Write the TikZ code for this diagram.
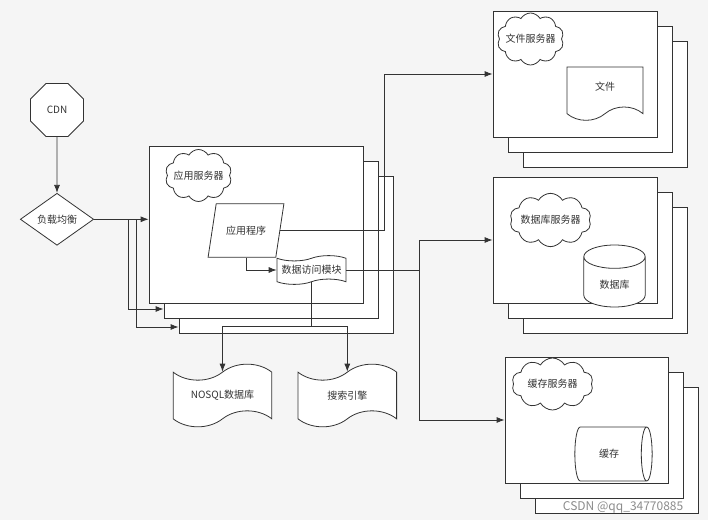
\documentclass[tikz,border=0pt]{standalone}
\usepackage{fontspec}
\newfontfamily\cjk{Noto Sans CJK SC}
\usetikzlibrary{arrows.meta,positioning,shapes.geometric,shapes.symbols}
\tikzset{>={Latex[length=6pt,width=4.5pt]}, every node/.style={font=\cjk\fontsize{7.5}{9}\selectfont, text=black!80}}
\begin{document}
\begin{tikzpicture}[x=0.75pt,y=-0.75pt]
	\tikzset{srvbox/.style={draw=black!80, fill=white, line width=.6pt},
		octa/.style={draw=black!80, fill=white, line width=.6pt, regular polygon, regular polygon sides=8, minimum size=43pt, inner sep=0pt},
		lbdiamond/.style={draw=black!80, fill=white, line width=.6pt, diamond, minimum width=55pt, minimum height=39pt, inner sep=0pt},
		cloudbox/.style={draw=black!80, fill=white, line width=.6pt, cloud, cloud puffs=10, cloud puff arc=120, cloud ignores aspect, inner sep=-3pt},
		progbox/.style={draw=black!80, fill=white, line width=.6pt, trapezium, trapezium left angle=70, trapezium right angle=110, trapezium stretches=true, minimum width=57pt, minimum height=40pt},
		tapebox/.style={draw=black!80, fill=white, line width=.6pt, tape, tape bend height=12pt, minimum width=74pt, minimum height=47pt},
		docbox/.style={draw=black!80, fill=white, line width=.6pt, tape, tape bend top=none, tape bend height=10pt, minimum width=57pt, minimum height=40pt},
		cylbox/.style={draw=black!80, fill=white, line width=.6pt, cylinder, aspect=.6, anchor=shape center},
		link/.style={draw=black!80, line width=.6pt, ->},
	}
	\path[use as bounding box, fill=black!4] (0,0) rectangle (708,520);
	% server stacks
	\foreach \name/\x/\y/\w/\h in {app/256/224.5/160.5pt/117.75pt, file/575/74/123pt/94.5pt, db/575/240/123pt/94.5pt, cache/586.5/420/122.25pt/94.5pt}{
		\node[srvbox, minimum width=\w, minimum height=\h] (\name3) at (\x+30,\y+30) {};
		\node[srvbox, minimum width=\w, minimum height=\h] (\name2) at (\x+15,\y+15) {};
		\node[srvbox, minimum width=\w, minimum height=\h] (\name1) at (\x,\y) {};
	}
	\node[octa] (cdn) at (57,110) {CDN};
	\node[lbdiamond, below=42pt of cdn] (lb) {负载均衡};
	\node[cloudbox, minimum width=50pt, minimum height=39pt] (appcloud) at (198.5,175.5) {应用服务器};
	\node[progbox] (prog) at (246,230.5) {应用程序};
	\node[tapebox, minimum width=50pt, minimum height=19.5pt, tape bend height=4pt] (dam) at (311.5,270) {数据访问模块};
	\node[tapebox] (nosql) at (222.5,395.5) {NOSQL数据库};
	\node[tapebox, right=19pt of nosql] (search) {搜索引擎};
	\node[cloudbox, minimum width=50pt, minimum height=39pt] (filecloud) at (530.5,39) {文件服务器};
	\node[docbox] (filedoc) at (605,87) {文件};
	\node[cloudbox, minimum width=61pt, minimum height=40pt] (dbcloud) at (550.5,220) {数据库服务器};
	\node[cylbox, shape border rotate=90, minimum width=46pt, minimum height=46.5pt] (dbcyl) at (614.5,276) {数据库};
	\node[cloudbox, minimum width=61pt, minimum height=39pt] (cachecloud) at (552.5,384) {缓存服务器};
	\node[cylbox, minimum width=40.5pt, minimum height=58pt] (cachecyl) at (613.5,454) {缓存};
	\node[text=black!45, font=\cjk\fontsize{9}{11}\selectfont, anchor=east] (csdn) at (688,507) {CSDN @qq\_34770885};
	% connectors
	\coordinate (lbdown2) at (128,309);
	\coordinate (lbdown3) at (136,327);
	\coordinate (fileup) at (384,74);
	\coordinate (dbsplit) at (419,270);
	\draw[link] (cdn) -- (lb);
	\draw[link] (lb.east) -- (lb.east -| app1.west);
	\draw[link] (lb.east) -| (lbdown2) -- (lbdown2 -| app2.west);
	\draw[link] (lb.east) -| (lbdown3) -- (lbdown3 -| app3.west);
	\draw[link] (prog.south) |- (dam.west);
	\draw[link] (prog.east) -| (fileup) -- (file1.west);
	\draw[link] (dam.east) -- (dbsplit) |- (db1.west);
	\draw[link] (dam.east) -- (dbsplit) |- (cache1.west);
	\draw[link] (dam.south) -- ++(0,44) -| (nosql.north);
	\draw[link] (dam.south) -- ++(0,44) -| (search.north);
\end{tikzpicture}
\end{document}
